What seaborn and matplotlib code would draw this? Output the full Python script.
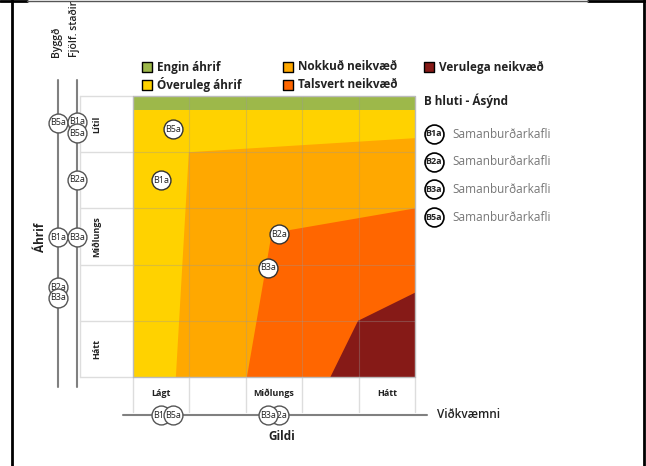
import matplotlib.pyplot as plt
import seaborn as sns

# Comparison chapters and their scores
categories = ["B1a", "B2a", "B3a", "B5a"]
gildi = [0.50, 2.59, 2.39, 0.71]      # Viðkvæmni / gildi (x)
ahrif = [3.50, 2.54, 1.94, 4.41]      # Áhrif, combined (y)
byggd = [2.49, 1.60, 1.41, 4.52]      # Áhrif á byggð
fjolf = [4.54, 3.51, 2.49, 4.34]      # Áhrif á fjölf. staði

# Zones of the matrix
zone_names = ["Engin áhrif", "Óveruleg áhrif", "Nokkuð neikvæð",
              "Talsvert neikvæð", "Verulega neikvæð"]
zone_colors = ["#9db84a", "#ffd200", "#ffa800", "#ff6600", "#861a17"]
engin_bottom = 4.75
nokkud_x = [0.76, 0.99, 5.0]
nokkud_y = [0.0, 4.0, 4.25]
talsvert_x = [2.02, 2.46, 5.0]
talsvert_y = [0.0, 2.56, 3.0]
verulega_x = [3.50, 3.99, 5.0]
verulega_y = [0.0, 1.0, 1.5]

x_levels = ["Lágt", "Miðlungs", "Hátt"]
x_level_pos = [0.5, 2.5, 4.5]
y_levels = ["Hátt", "Miðlungs", "Lítil"]
y_level_pos = [0.5, 2.5, 4.5]


def dx(p):
    return (p - 133) / 56.4


def dy(p):
    return (377 - p) / 56.2


def bubble(ax, x, y, label, z, edge="#555555", lw=1.0, bold=False):
    sns.scatterplot(x=[x], y=[y], s=185, color="white", edgecolor=edge,
                    linewidth=lw, zorder=z, ax=ax, legend=False)
    ax.text(x, y, label, ha="center", va="center", fontsize=6.5,
            color="#222222", zorder=z + 0.5,
            fontweight="bold" if bold else "normal")


sns.set_style("white")
plt.rcParams["font.family"] = ["Open Sans", "DejaVu Sans"]

fig = plt.figure(figsize=(6.46, 4.66), dpi=100)
ax = fig.add_axes([0, 0, 1, 1])
ax.set_axis_off()

# matrix zones
ax.fill([0, 5, 5, 0], [0, 0, engin_bottom, engin_bottom], color=zone_colors[1], lw=0, zorder=1)
ax.fill([0, 5, 5, 0], [engin_bottom, engin_bottom, 5, 5], color=zone_colors[0], lw=0, zorder=1)
ax.fill(nokkud_x + [5], nokkud_y + [0], color=zone_colors[2], lw=0, zorder=2)
ax.fill(talsvert_x + [5], talsvert_y + [0], color=zone_colors[3], lw=0, zorder=3)
ax.fill(verulega_x + [5], verulega_y + [0], color=zone_colors[4], lw=0, zorder=4)

# grid inside matrix
for v in range(1, 5):
    ax.plot([v, v], [0, 5], color="#999999", alpha=0.35, lw=0.8, zorder=5)
    ax.plot([0, 5], [v, v], color="#999999", alpha=0.35, lw=0.8, zorder=5)
ax.plot([0, 5, 5, 0, 0], [0, 0, 5, 5, 0], color="#bbbbbb", lw=1, zorder=5)

# label columns
for v in range(6):
    ax.plot([dx(80), 0], [v, v], color="#dddddd", lw=1, zorder=1)
    ax.plot([v, v], [0, dy(412)], color="#dddddd", lw=1, zorder=1)
ax.plot([dx(80), dx(80)], [0, 5], color="#dddddd", lw=1, zorder=1)
for lab, pos in zip(y_levels, y_level_pos):
    ax.text(dx(97), pos, lab, rotation=90, ha="center", va="center",
            fontsize=6.5, fontweight="bold", color="#222222")
for lab, pos in zip(x_levels, x_level_pos):
    ax.text(pos, dy(393), lab, ha="center", va="center",
            fontsize=6.5, fontweight="bold", color="#222222")

# side axes
xb, xf = dx(58), dx(77)
yb = dy(415)
ax.plot([xb, xb], [dy(80), dy(387)], color="#808080", lw=1.5, zorder=6)
ax.plot([xf, xf], [dy(80), dy(387)], color="#808080", lw=1.5, zorder=6)
ax.plot([dx(123), dx(427)], [yb, yb], color="#808080", lw=1.5, zorder=6)
ax.text(dx(56), dy(57), "Byggð", rotation=90, ha="center", va="bottom",
        fontsize=7.5, fontweight="semibold", color="#222222")
ax.text(dx(74), dy(57), "Fjölf. staðir", rotation=90, ha="center", va="bottom",
        fontsize=7.5, fontweight="semibold", color="#222222")
ax.text(dx(40), dy(237), "Áhrif", rotation=90, ha="center", va="center",
        fontsize=8.5, fontweight="bold", color="#222222")
ax.text(dx(437), yb, "Viðkvæmni", ha="left", va="center",
        fontsize=8.5, fontweight="semibold", color="#222222")
ax.text(dx(282), dy(436), "Gildi", ha="center", va="center",
        fontsize=8.5, fontweight="bold", color="#222222")

# bubbles: matrix, bottom axis, left axes
for i, cat in enumerate(categories):
    bubble(ax, gildi[i], ahrif[i], cat, 10 + i, edge="#333333")
    bubble(ax, gildi[i], yb, cat, 20 + i)
    bubble(ax, xb, byggd[i], cat, 30 + i)
    bubble(ax, xf, fjolf[i], cat, 40 + i)

# zone legend
leg_x = [147, 147, 288, 288, 429]
leg_y = [67, 85, 67, 85, 67]
for name, col, lx, ly in zip(zone_names, zone_colors, leg_x, leg_y):
    ax.scatter([dx(lx)], [dy(ly)], marker="s", s=60, color=col,
               edgecolor="black", linewidth=1, zorder=50)
    ax.text(dx(lx + 10), dy(ly), name, ha="left", va="center",
            fontsize=8.5, fontweight="bold", color="#222222")
ax.text(dx(424), dy(101), "B hluti - Ásýnd", ha="left", va="center",
        fontsize=8.5, fontweight="bold", color="#222222")

# chapter legend
for i, cat in enumerate(categories):
    ly = dy(134 + 27.7 * i)
    bubble(ax, dx(434), ly, cat, 60 + i, edge="black", lw=1.2, bold=True)
    ax.text(dx(452), ly, "Samanburðarkafli", ha="left", va="center",
            fontsize=8.5, color="#777777")

# outer frame
ax.plot([dx(12), dx(12)], [dy(0), dy(466)], color="black", lw=2)
ax.plot([dx(644), dx(644)], [dy(0), dy(466)], color="black", lw=2)
ax.plot([dx(0), dx(27)], [dy(1), dy(1)], color="black", lw=2)
ax.plot([dx(588), dx(646)], [dy(1), dy(1)], color="black", lw=2)
ax.plot([dx(27), dx(588)], [dy(1), dy(1)], color="#555555", lw=1)

ax.set_xlim(dx(0), dx(646))
ax.set_ylim(dy(466), dy(0))

fig.savefig("out.png", dpi=100)
